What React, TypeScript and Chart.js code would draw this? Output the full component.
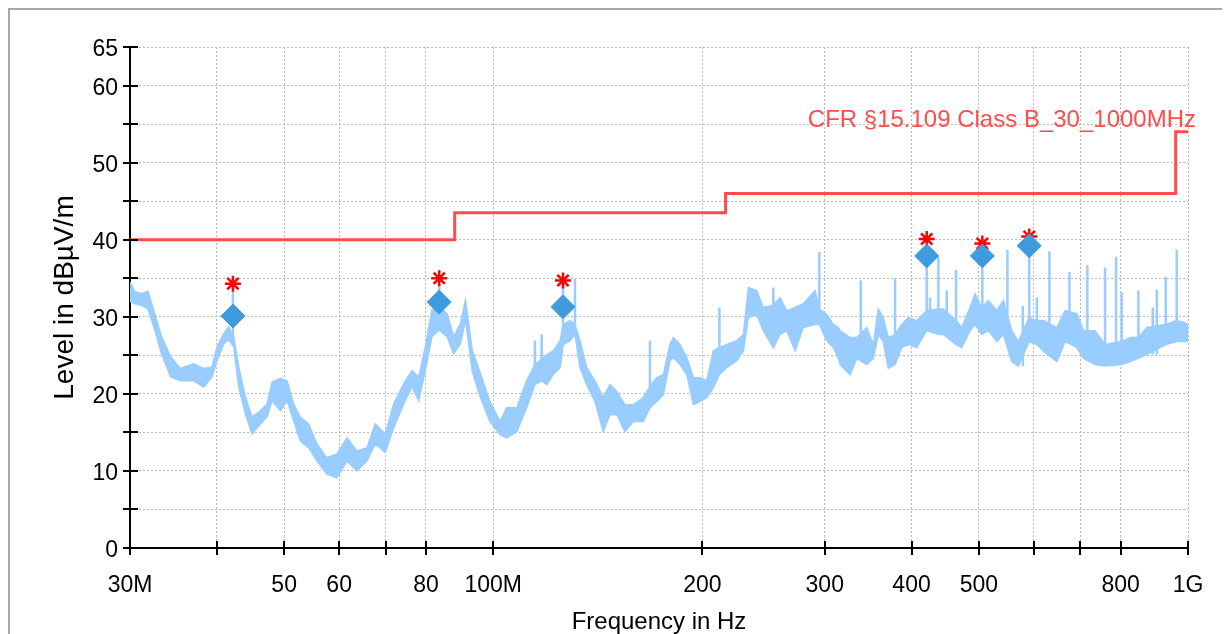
import React, { useEffect, useRef } from 'react';
import { Chart, registerables } from 'chart.js';

Chart.register(...registerables);

// ---------- data ----------
const traceFreqs = [
  30, 30.47, 31.14, 31.84, 32.56, 33.3, 34.33, 35.44, 37.04, 38.3,
  39.37, 40.03, 40.93, 41.61, 42.31, 43.01, 43.98, 44.96, 46.22, 47.25,
  48.04, 49.39, 50.49, 51.6, 52.75, 54.24, 55.75, 57.63, 59.57, 61.58,
  63.65, 65.8, 67.64, 69.91, 71.89, 74.31, 76.39, 78.1, 79.83, 81.6,
  83.6, 85.8, 87.7, 89.7, 91.2, 93.25, 95.7, 98.9, 102.3, 104.5,
  108.1, 111.7, 114.8, 117.4, 119.4, 122, 124.8, 126.1, 129, 131.1,
  133.3, 136.3, 140.1, 144, 147.2, 150.6, 154.7, 159.1, 164.4, 168.1,
  171.9, 175.7, 179.6, 181.6, 185.7, 189.9, 194.1, 198.4, 202.9, 207.4,
  211.6, 216.8, 224.1, 229.1, 232.9, 239.4, 244.7, 253, 258.7, 264.5,
  271.9, 279.4, 290.5, 294.7, 302, 308.7, 313.8, 315.6, 326.2, 333.6,
  344.8, 352.4, 358.3, 364.2, 370.4, 378.7, 387.2, 395.8, 406.9, 420.6,
  437.2, 444.5, 463.6, 472.4, 485.6, 493.8, 504.8, 516, 530.6, 542.3,
  557.6, 570, 590.6, 606, 619.3, 647.5, 665.5, 691.8, 707, 735,
  759.6, 802.8, 825.3, 848.4, 872.4, 928.8, 963.3, 984.6, 1000,
];
const traceTop = [
  34.5, 33.3, 33.0, 33.3, 30.4, 27.4, 24.8, 23.3, 23.9, 23.3,
  23.5, 26.1, 27.8, 28.7, 27.4, 23.5, 19.6, 17.0, 17.8, 18.7,
  21.5, 22.0, 21.7, 18.7, 17.0, 16.1, 13.5, 11.7, 12.2, 14.3,
  12.6, 13.0, 16.1, 14.8, 18.7, 21.3, 23.0, 22.2, 26.1, 30.9,
  31.3, 30.4, 27.4, 29.1, 32.2, 25.7, 22.8, 19.0, 16.4, 18.2,
  18.2, 21.7, 23.8, 24.5, 25.1, 25.6, 26.9, 29.0, 29.5, 29.0,
  26.9, 23.4, 21.7, 19.5, 21.2, 20.3, 18.6, 18.6, 19.5, 21.0,
  22.1, 22.5, 26.4, 27.3, 26.4, 24.7, 22.1, 22.1, 21.7, 25.6,
  26.0, 26.4, 26.9, 27.7, 33.8, 33.4, 31.2, 31.5, 32.5, 30.8,
  31.2, 31.7, 33.4, 31.0, 30.3, 29.0, 28.6, 28.2, 27.3, 27.3,
  28.6, 26.4, 31.0, 29.9, 27.3, 27.7, 29.0, 29.9, 29.5, 30.8,
  31.0, 31.0, 29.5, 28.6, 31.2, 33.0, 31.2, 32.1, 30.8, 32.1,
  28.2, 26.8, 29.9, 29.5, 29.5, 28.6, 30.8, 30.4, 28.2, 28.2,
  26.4, 26.8, 27.3, 27.3, 28.6, 29.0, 29.5, 29.3, 29.0,
];
const traceBottom = [
  32.0, 31.7, 31.5, 31.0, 28.3, 25.2, 22.2, 21.7, 21.7, 20.9,
  22.2, 24.3, 26.5, 27.0, 26.1, 20.9, 17.4, 14.8, 16.1, 17.0,
  19.1, 17.8, 19.1, 16.5, 13.9, 13.0, 11.3, 9.6, 9.1, 11.3,
  10.0, 11.3, 13.5, 12.4, 15.6, 18.7, 20.9, 19.1, 23.0, 27.4,
  28.3, 27.4, 25.2, 26.5, 29.6, 23.0, 19.7, 16.4, 14.7, 14.3,
  15.1, 18.2, 21.2, 21.7, 21.2, 22.5, 23.4, 26.4, 26.9, 27.7,
  23.4, 21.2, 19.0, 15.1, 17.3, 17.3, 15.1, 16.4, 16.4, 18.2,
  19.0, 19.9, 24.3, 24.7, 23.8, 22.5, 18.6, 19.0, 19.5, 20.8,
  22.5, 23.4, 24.3, 25.6, 29.9, 30.3, 28.2, 26.0, 27.7, 28.2,
  25.6, 28.6, 29.0, 29.0, 26.9, 26.0, 24.7, 23.8, 22.5, 24.6,
  23.8, 24.6, 27.7, 26.8, 23.3, 23.8, 26.0, 26.4, 26.0, 28.2,
  27.7, 27.7, 26.4, 26.0, 28.2, 29.0, 27.7, 28.2, 26.8, 27.7,
  24.2, 23.6, 26.8, 26.4, 25.5, 24.2, 26.8, 26.0, 24.6, 23.8,
  23.6, 23.8, 24.2, 24.6, 25.1, 26.4, 26.8, 26.8, 26.8,
];

const spikeFreqs = [
  42.2, 83.6, 114.8, 117.4, 126.0, 131.1, 168.1, 211.6, 253.0, 294.7,
  338.1, 378.7, 420.6, 425.3, 437.2, 449.5, 463.6, 505.8, 549.6, 578.4,
  590.9, 606.0, 631.7, 675.1, 716.4, 759.6, 787.8, 802.8, 848.4, 889.8,
  901.8, 928.8, 963.3,
];
const spikeBases = [
  27.0, 28.3, 21.2, 21.7, 26.4, 27.7, 18.2, 22.5, 26.0, 29.0,
  24.6, 23.8, 28.2, 28.2, 27.7, 27.7, 26.4, 27.7, 27.7, 23.6,
  26.8, 26.4, 25.5, 26.8, 24.6, 23.6, 23.8, 23.8, 24.6, 25.1,
  25.1, 26.4, 26.8,
];
const spikeTops = [
  33.8, 34.3, 26.9, 27.7, 33.8, 34.9, 26.9, 31.2, 33.8, 38.4,
  34.7, 35.0, 38.0, 32.5, 37.8, 33.4, 36.1, 37.0, 38.7, 31.4,
  38.5, 32.5, 38.5, 35.8, 36.7, 36.4, 37.8, 33.2, 33.4, 31.2,
  33.5, 35.2, 38.7,
];

const finalFreqs = [42.2, 83.6, 126.0, 420.6, 505.8, 590.9];
const finalLevels = [30.1, 31.9, 31.3, 37.9, 37.9, 39.2];
const peakLevels = [34.3, 35.0, 34.7, 40.1, 39.5, 40.4];

const limitFreqs = [30, 88, 216, 960, 1000];
const limitLevels = [40, 43.5, 46, 54, 54];
const limitLabel = 'CFR §15.109 Class B_30_1000MHz';

const xTickValues = [30, 40, 50, 60, 70, 80, 100, 200, 300, 400, 500, 600, 700, 800, 1000];
const xTickLabels = ['30M', '', '50', '60', '', '80', '100M', '200', '300', '400', '500', '', '', '800', '1G'];
const yMin = 0;
const yMax = 65;
const yStep = 5;
const yLabelled = [0, 10, 20, 30, 40, 50, 60, 65];

const xTitle = 'Frequency in Hz';
const yTitle = 'Level in dBµV/m';

// ---------- styles ----------
const FONT = "'Liberation Sans', Arial, sans-serif";
const TRACE = '#99CCFF';
const DIAMOND = '#409BDE';
const STAR = '#FF0000';
const LIMIT = '#FF4D4D';
const GRID = '#B8B8B8';

const overlayPlugin = {
  id: 'overlay',
  afterDraw(chart: any) {
    const { ctx, scales } = chart;
    const x = scales.x;
    const y = scales.y;
    ctx.save();
    ctx.strokeStyle = '#000';
    ctx.lineWidth = 2;
    for (const t of y.ticks) {
      const py = Math.round(y.getPixelForValue(t.value));
      ctx.beginPath();
      ctx.moveTo(x.left - 7, py);
      ctx.lineTo(x.left + 8, py);
      ctx.stroke();
    }
    for (const t of x.ticks) {
      const px = Math.round(x.getPixelForValue(t.value));
      ctx.beginPath();
      ctx.moveTo(px, y.bottom - 7);
      ctx.lineTo(px, y.bottom + 7);
      ctx.stroke();
    }
    ctx.fillStyle = LIMIT;
    ctx.font = `24px ${FONT}`;
    ctx.textAlign = 'right';
    ctx.textBaseline = 'alphabetic';
    ctx.fillText(limitLabel, x.right + 8, y.getPixelForValue(limitLevels[limitLevels.length - 1]) - 5);
    ctx.restore();
  },
};

export default function App() {
  const ref = useRef<HTMLCanvasElement | null>(null);

  useEffect(() => {
    if (!ref.current) return;
    const upper = traceFreqs.map((f, i) => ({ x: f, y: traceTop[i] }));
    const lower = traceFreqs.map((f, i) => ({ x: f, y: traceBottom[i] }));
    const spikes: any[] = [];
    spikeFreqs.forEach((f, i) => {
      spikes.push({ x: f, y: spikeBases[i] });
      spikes.push({ x: f, y: spikeTops[i] });
      spikes.push({ x: f, y: null });
    });
    const limit = limitFreqs.map((f, i) => ({ x: f, y: limitLevels[i] }));
    const finals = finalFreqs.map((f, i) => ({ x: f, y: finalLevels[i] }));
    const peaks = finalFreqs.map((f, i) => ({ x: f, y: peakLevels[i] }));

    const chart = new Chart(ref.current, {
      type: 'line',
      data: {
        datasets: [
          {
            label: 'Final',
            data: finals,
            showLine: false,
            pointStyle: 'rectRot',
            pointRadius: 12,
            pointBackgroundColor: DIAMOND,
            pointBorderColor: DIAMOND,
            pointBorderWidth: 1,
            order: 0,
          },
          {
            label: 'Peak',
            data: peaks,
            showLine: false,
            pointStyle: 'star',
            pointRadius: 8,
            pointBorderColor: STAR,
            pointBackgroundColor: STAR,
            pointBorderWidth: 2.5,
            order: 1,
          },
          {
            label: 'Limit',
            data: limit,
            stepped: 'before',
            borderColor: LIMIT,
            borderWidth: 3,
            pointRadius: 0,
            fill: false,
            order: 2,
          },
          {
            label: 'Spikes',
            data: spikes,
            borderColor: TRACE,
            borderWidth: 2.5,
            pointRadius: 0,
            spanGaps: false,
            fill: false,
            order: 3,
          },
          {
            label: 'Upper',
            data: upper,
            borderColor: TRACE,
            borderWidth: 1.5,
            pointRadius: 0,
            fill: false,
            order: 4,
          },
          {
            label: 'Lower',
            data: lower,
            borderColor: TRACE,
            backgroundColor: TRACE,
            borderWidth: 1.5,
            pointRadius: 0,
            fill: '-1',
            order: 5,
          },
        ],
      },
      options: {
        responsive: false,
        animation: false,
        events: [],
        layout: { padding: { left: 0, top: 37, right: 42, bottom: 0 } },
        plugins: {
          legend: { display: false },
          tooltip: { enabled: false },
        },
        scales: {
          x: {
            type: 'logarithmic',
            min: 30,
            max: 1000,
            afterBuildTicks: (axis: any) => {
              axis.ticks = xTickValues.map((v) => ({ value: v }));
            },
            afterFit: (scale: any) => {
              scale.height = 86;
            },
            ticks: {
              autoSkip: false,
              maxRotation: 0,
              minRotation: 0,
              padding: 24,
              color: '#000',
              font: { family: FONT, size: 23 },
              callback: (v: any) => {
                const i = xTickValues.indexOf(Number(v));
                return i >= 0 ? xTickLabels[i] : '';
              },
            },
            grid: {
              color: GRID,
              lineWidth: 1,
              drawTicks: false,
            },
            border: { display: true, color: '#000', width: 2, dash: [2, 2] },
            title: {
              display: true,
              text: xTitle,
              color: '#000',
              font: { family: FONT, size: 24, lineHeight: 1 },
              padding: { top: 0, bottom: 0 },
            },
          },
          y: {
            type: 'linear',
            min: yMin,
            max: yMax,
            afterFit: (scale: any) => {
              scale.width = 120;
            },
            ticks: {
              stepSize: yStep,
              padding: 12,
              labelOffset: 3,
              color: '#000',
              font: { family: FONT, size: 23 },
              callback: (v: any) => (yLabelled.includes(Number(v)) ? String(v) : ''),
            },
            grid: {
              color: GRID,
              lineWidth: 1,
              drawTicks: false,
            },
            border: { display: true, color: '#000', width: 2, dash: [2, 2] },
            title: {
              display: true,
              text: yTitle,
              color: '#000',
              font: { family: FONT, size: 28, lineHeight: 1 },
              padding: { top: 41, bottom: 0 },
            },
          },
        },
      },
      plugins: [overlayPlugin],
    } as any);
    return () => chart.destroy();
  }, []);

  return (
    <div
      style={{
        position: 'relative',
        width: 1222,
        height: 626,
        boxSizing: 'border-box',
        borderLeft: '2px solid #a8a8a8',
        borderTop: '2px solid #a8a8a8',
        background: '#fff',
        overflow: 'hidden',
      }}
    >
      <canvas ref={ref} width={1220} height={624} style={{ display: 'block' }} />
    </div>
  );
}
